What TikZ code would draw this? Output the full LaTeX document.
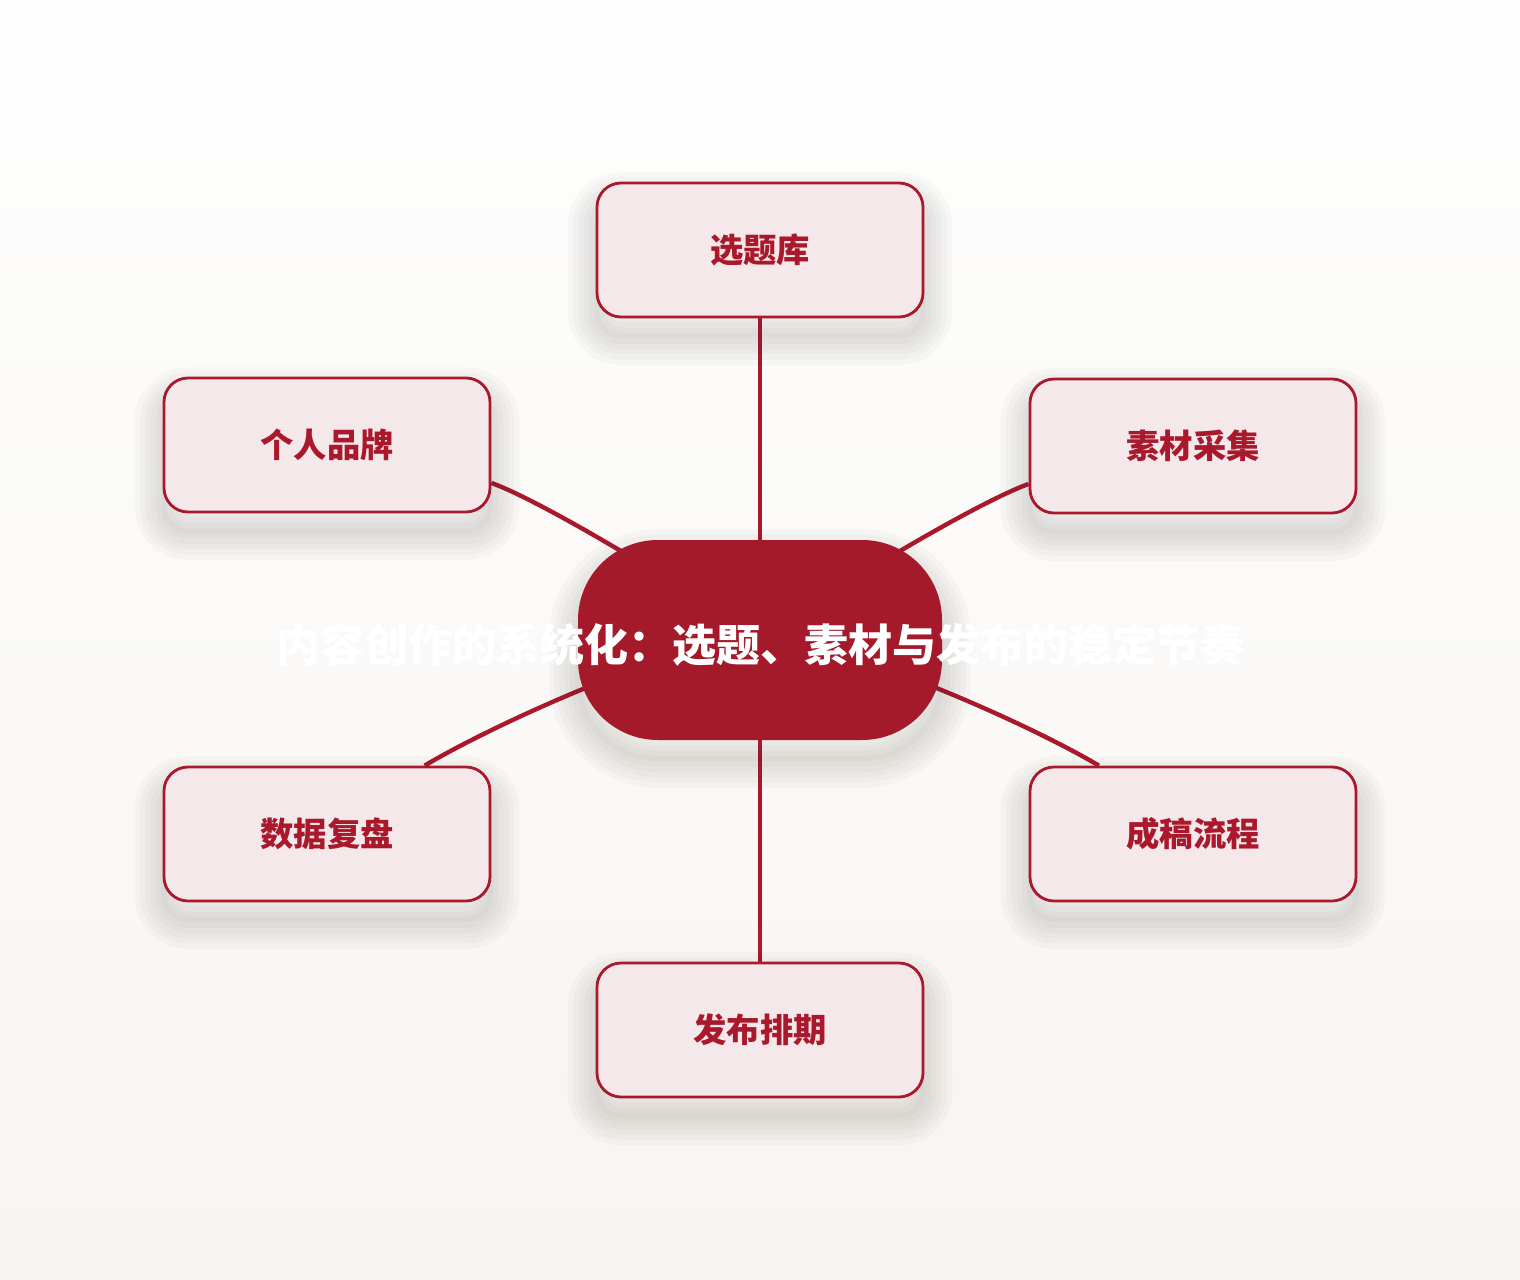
\documentclass[tikz,border=0pt]{standalone}
\usepackage{fontspec}
\setmainfont{Noto Sans CJK SC}
\usepackage{xcolor}
\usepackage{tikz}

\definecolor{hubred}{RGB}{165,26,42}
\definecolor{boxfill}{RGB}{245,232,235}
\definecolor{boxline}{RGB}{170,24,44}
\definecolor{bgtop}{RGB}{254,254,254}
\definecolor{bgbot}{RGB}{247,245,241}
\definecolor{shadowgrey}{RGB}{60,55,45}

\pgfdeclarelayer{bg}
\pgfdeclarelayer{links}
\pgfsetlayers{bg,links,main}

\begin{document}
\begin{tikzpicture}[x=0.75pt,y=0.75pt,yscale=-1,xscale=1,
  softshadow/.style={
    preaction={draw=shadowgrey, draw opacity=0.028, line width=44pt, transform canvas={yshift=-14pt}},
    preaction={draw=shadowgrey, draw opacity=0.028, line width=36pt, transform canvas={yshift=-14pt}},
    preaction={draw=shadowgrey, draw opacity=0.028, line width=28pt, transform canvas={yshift=-14pt}},
    preaction={draw=shadowgrey, draw opacity=0.028, line width=20pt, transform canvas={yshift=-14pt}},
    preaction={draw=shadowgrey, draw opacity=0.028, line width=12pt, transform canvas={yshift=-14pt}},
    preaction={draw=shadowgrey, draw opacity=0.028, line width=4pt, transform canvas={yshift=-14pt}}},
  box/.style={softshadow, draw=boxline, line width=2.1pt, fill=boxfill, rounded corners=18pt,
    minimum width=244.5pt, minimum height=100.5pt, text=boxline,
    font=\fontsize{25}{30}\selectfont\bfseries},
  hubshape/.style={softshadow, fill=hubred, rounded corners=60pt, minimum width=273pt, minimum height=150pt},
  hubtext/.style={text=white, font=\fontsize{33}{40}\selectfont\bfseries, inner sep=0pt},
  link/.style={draw=boxline, line width=3.3pt}]
\useasboundingbox (0,0) rectangle (1520,1280);

%Shape: Background
\begin{pgfonlayer}{bg}
\shade [top color=bgtop, bottom color=bgbot] (0,0) rectangle (1520,1280);
\end{pgfonlayer}

%Shape: Boxes
\draw (760,250) node [box] (topic) {选题库};
\draw (1193,446) node [box] (material) {素材采集};
\draw (1193,834) node [box] (draft) {成稿流程};
\draw (760,1030) node [box] (publish) {发布排期};
\draw (327,834) node [box] (review) {数据复盘};
\draw (327,445) node [box] (brand) {个人品牌};

%Shape: Hub
\draw (760,640) node [hubshape] (hub) {};

% Text Node
\draw (760,645) node [hubtext] (title) {内容创作的系统化：选题、素材与发布的稳定节奏};

\begin{pgfonlayer}{links}
%Straight Lines
\draw [link] (topic.south) -- (hub.center);
\draw [link] (publish.north) -- (hub.center);
%Curve Lines
\draw [link] (brand.-13.5) .. controls +(50,18) and +(-80,-56) .. (hub.center);
\draw [link] (material.193.5) .. controls +(-50,18) and +(80,-56) .. (hub.center);
\draw [link] (draft.144.2) .. controls +(-70,-42) and +(70,-5) .. (hub.center);
\draw [link] (review.35.8) .. controls +(70,-42) and +(-70,-5) .. (hub.center);
\end{pgfonlayer}

\end{tikzpicture}
\end{document}
